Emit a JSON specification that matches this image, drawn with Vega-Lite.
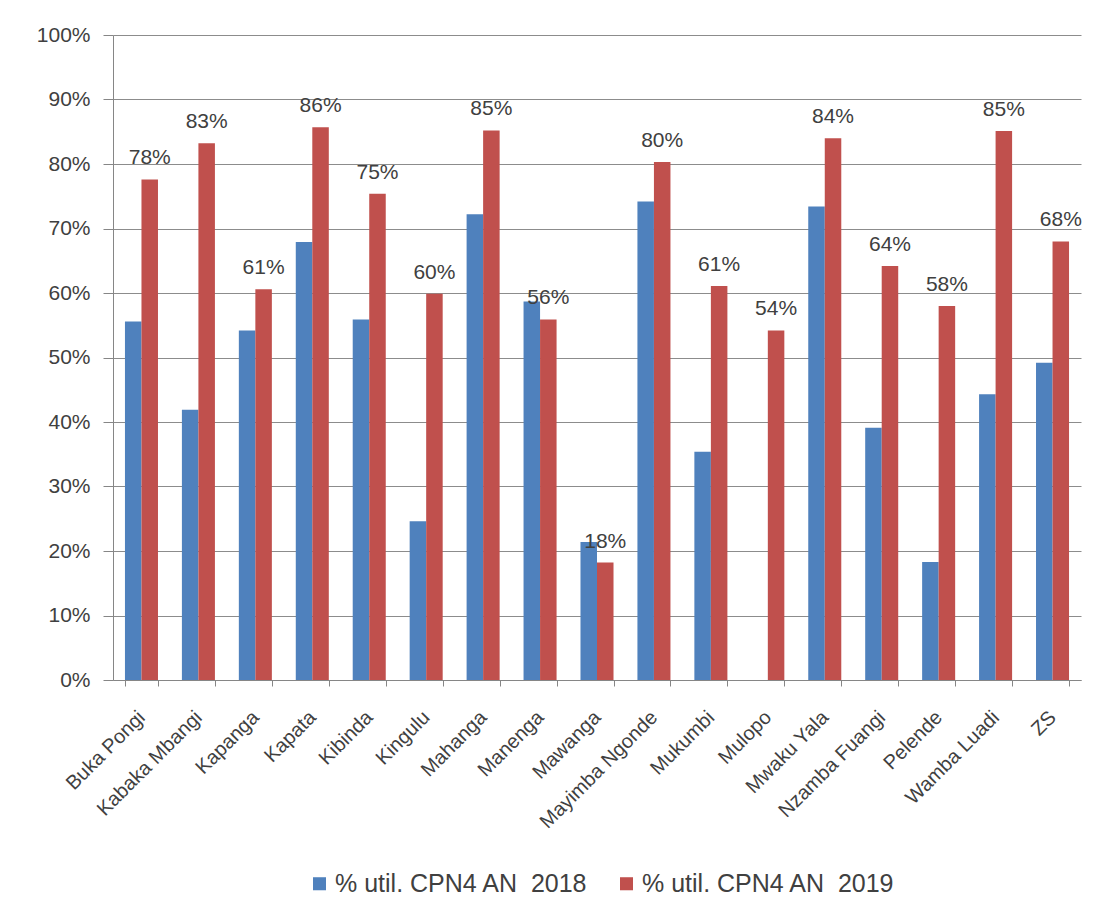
{
  "$schema": "https://vega.github.io/schema/vega-lite/v6.json",
  "width": 968,
  "height": 645,
  "autosize": {"type": "none"},
  "padding": {"left": 113, "top": 35, "right": 23, "bottom": 232},
  "background": "white",
  "config": {
    "view": {"stroke": null},
    "font": "Liberation Sans",
    "text": {"font": "Liberation Sans"}
  },
  "data": {
    "values": [
      {"district": "Buka Pongi", "series": "% util. CPN4 AN\u00a0 2018", "value": 0.556},
      {"district": "Buka Pongi", "series": "% util. CPN4 AN\u00a0 2019", "value": 0.776},
      {"district": "Kabaka Mbangi", "series": "% util. CPN4 AN\u00a0 2018", "value": 0.419},
      {"district": "Kabaka Mbangi", "series": "% util. CPN4 AN\u00a0 2019", "value": 0.832},
      {"district": "Kapanga", "series": "% util. CPN4 AN\u00a0 2018", "value": 0.542},
      {"district": "Kapanga", "series": "% util. CPN4 AN\u00a0 2019", "value": 0.606},
      {"district": "Kapata", "series": "% util. CPN4 AN\u00a0 2018", "value": 0.679},
      {"district": "Kapata", "series": "% util. CPN4 AN\u00a0 2019", "value": 0.857},
      {"district": "Kibinda", "series": "% util. CPN4 AN\u00a0 2018", "value": 0.559},
      {"district": "Kibinda", "series": "% util. CPN4 AN\u00a0 2019", "value": 0.754},
      {"district": "Kingulu", "series": "% util. CPN4 AN\u00a0 2018", "value": 0.246},
      {"district": "Kingulu", "series": "% util. CPN4 AN\u00a0 2019", "value": 0.599},
      {"district": "Mahanga", "series": "% util. CPN4 AN\u00a0 2018", "value": 0.722},
      {"district": "Mahanga", "series": "% util. CPN4 AN\u00a0 2019", "value": 0.852},
      {"district": "Manenga", "series": "% util. CPN4 AN\u00a0 2018", "value": 0.587},
      {"district": "Manenga", "series": "% util. CPN4 AN\u00a0 2019", "value": 0.559},
      {"district": "Mawanga", "series": "% util. CPN4 AN\u00a0 2018", "value": 0.214},
      {"district": "Mawanga", "series": "% util. CPN4 AN\u00a0 2019", "value": 0.182},
      {"district": "Mayimba Ngonde", "series": "% util. CPN4 AN\u00a0 2018", "value": 0.742},
      {"district": "Mayimba Ngonde", "series": "% util. CPN4 AN\u00a0 2019", "value": 0.803},
      {"district": "Mukumbi", "series": "% util. CPN4 AN\u00a0 2018", "value": 0.354},
      {"district": "Mukumbi", "series": "% util. CPN4 AN\u00a0 2019", "value": 0.611},
      {"district": "Mulopo", "series": "% util. CPN4 AN\u00a0 2018", "value": 0},
      {"district": "Mulopo", "series": "% util. CPN4 AN\u00a0 2019", "value": 0.542},
      {"district": "Mwaku Yala", "series": "% util. CPN4 AN\u00a0 2018", "value": 0.734},
      {"district": "Mwaku Yala", "series": "% util. CPN4 AN\u00a0 2019", "value": 0.840},
      {"district": "Nzamba Fuangi", "series": "% util. CPN4 AN\u00a0 2018", "value": 0.391},
      {"district": "Nzamba Fuangi", "series": "% util. CPN4 AN\u00a0 2019", "value": 0.642},
      {"district": "Pelende", "series": "% util. CPN4 AN\u00a0 2018", "value": 0.183},
      {"district": "Pelende", "series": "% util. CPN4 AN\u00a0 2019", "value": 0.580},
      {"district": "Wamba Luadi", "series": "% util. CPN4 AN\u00a0 2018", "value": 0.443},
      {"district": "Wamba Luadi", "series": "% util. CPN4 AN\u00a0 2019", "value": 0.851},
      {"district": "ZS", "series": "% util. CPN4 AN\u00a0 2018", "value": 0.492},
      {"district": "ZS", "series": "% util. CPN4 AN\u00a0 2019", "value": 0.680}
    ]
  },
  "encoding": {
    "x": {
      "field": "district",
      "type": "nominal",
      "sort": null,
      "scale": {"paddingInner": 0.42, "paddingOuter": 0.21},
      "axis": {
        "title": null,
        "domainColor": "#868686",
        "tickColor": "#868686",
        "tickBand": "extent",
        "tickSize": 6,
        "labelAngle": -45,
        "labelAlign": "right",
        "labelBaseline": "middle",
        "labelPadding": 28,
        "labelFontSize": 20,
        "labelColor": "#404040",
        "labelFont": "Liberation Sans"
      }
    },
    "xOffset": {"field": "series", "type": "nominal", "scale": {"paddingInner": 0, "paddingOuter": 0}},
    "y": {
      "field": "value",
      "type": "quantitative",
      "scale": {"domain": [0, 1], "nice": false},
      "axis": {
        "title": null,
        "values": [0, 0.1, 0.2, 0.3, 0.4, 0.5, 0.6, 0.7, 0.8, 0.9, 1],
        "format": ".0%",
        "grid": true,
        "gridColor": "#8c8c8c",
        "gridWidth": 1,
        "domainColor": "#868686",
        "tickColor": "#868686",
        "tickSize": 10,
        "labelPadding": 13,
        "labelFontSize": 21,
        "labelColor": "#404040",
        "labelFont": "Liberation Sans"
      }
    }
  },
  "layer": [
    {
      "mark": {"type": "bar"},
      "encoding": {
        "color": {
          "field": "series",
          "type": "nominal",
          "scale": {"range": ["#4F81BD", "#C0504D"]},
          "legend": {
            "title": null,
            "orient": "none",
            "direction": "horizontal",
            "legendX": 194,
            "legendY": 836,
            "symbolType": "square",
            "symbolSize": 170,
            "symbolStrokeWidth": 0,
            "labelFontSize": 25,
            "labelColor": "#404040",
            "labelFont": "Liberation Sans",
            "labelOffset": 3,
            "columnPadding": 26,
            "labelLimit": 400
          }
        }
      }
    },
    {
      "transform": [{"filter": "datum.series == '% util. CPN4 AN\u00a0 2019'"}],
      "mark": {
        "type": "text",
        "baseline": "alphabetic",
        "align": "center",
        "dy": -15,
        "fontSize": 21,
        "color": "#404040",
        "font": "Liberation Sans"
      },
      "encoding": {
        "text": {"field": "value", "type": "quantitative", "format": ".0%"}
      }
    }
  ]
}
